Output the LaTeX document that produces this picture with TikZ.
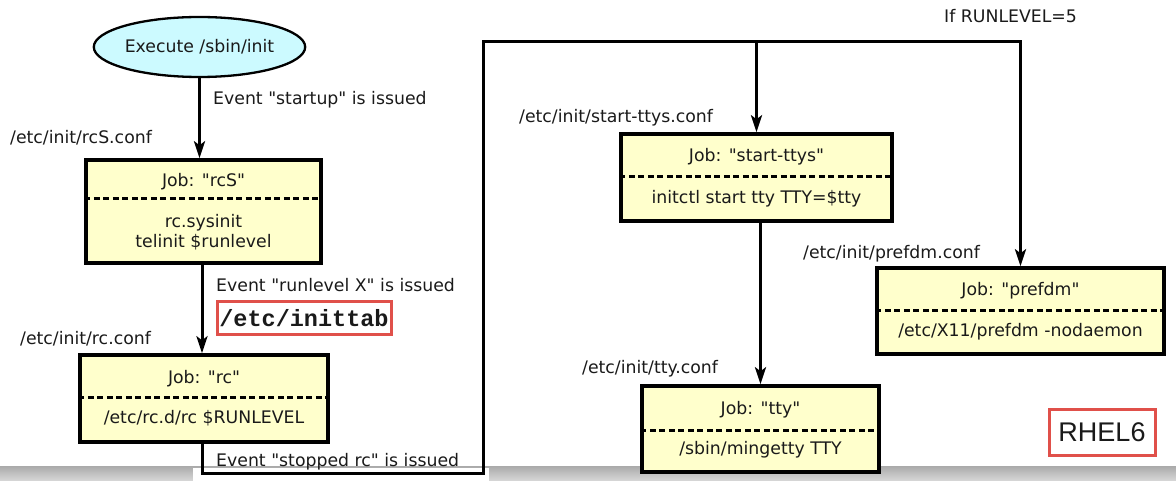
\documentclass[tikz,border=0pt]{standalone}
\usepackage{fontspec}
\newfontfamily\jpf{DejaVu Sans}
\newfontfamily\monof{Liberation Mono}
\newfontfamily\arialf{Liberation Sans}
\usetikzlibrary{arrows.meta,shapes.geometric}
\definecolor{boxyellow}{HTML}{FFFFCC}
\definecolor{ellcyan}{HTML}{CCFAFF}
\definecolor{redbox}{HTML}{E0504A}
\definecolor{txt}{HTML}{1A1A1A}
\definecolor{bandgray}{HTML}{C8C8C8}
\tikzset{
  every node/.style={text=txt, inner sep=0pt, font=\jpf\fontsize{17.3}{20}\selectfont},
  jobbox/.style={draw=black, fill=boxyellow, line width=3.5pt, rectangle},
  sep/.style={line width=3pt, dash pattern=on 6pt off 3.5pt},
  conn/.style={line width=3pt, draw=black},
  arr/.style={-{Stealth[length=17pt,width=11pt,inset=4pt]}},
  lbl/.style={anchor=west},
  redframe/.style={draw=redbox, line width=3pt, fill=white},
}
\begin{document}
\begin{tikzpicture}[x=1pt,y=-1pt]
\useasboundingbox (0,0) rectangle (1176,481);
% screenshot band at the bottom
\fill[top color=bandgray!85!black, bottom color=bandgray!70!white] (0,466) rectangle (1176,481);
\fill[white] (193,468) rectangle (489,481);

% start ellipse
\node[ellipse, draw=black, line width=2.3pt, fill=ellcyan, minimum width=206pt, minimum height=60pt] (init) at (199.5,47) {Execute /sbin/init};

% rcS job
\node[jobbox, minimum width=235pt, minimum height=103pt] (rcS) at (203.5,211.5) {};
\draw[sep] (rcS.west |- 0,199) -- (rcS.east |- 0,199);
\node (rcSjob) at (203.5,182) {Job: "rcS"};
\node (rcScmd) at (203.5,234) {\begin{tabular}{@{}c@{}}rc.sysinit\\[0pt] telinit \$runlevel\end{tabular}};

% rc job
\node[jobbox, minimum width=248pt, minimum height=87pt] (rc) at (204,398.5) {};
\draw[sep] (rc.west |- 0,397) -- (rc.east |- 0,397);
\node (rcjob) at (204,379) {Job: "rc"};
\node (rccmd) at (204,418) {/etc/rc.d/rc \$RUNLEVEL};

% start-ttys job
\node[jobbox, minimum width=271pt, minimum height=87pt] (stys) at (756.5,177.5) {};
\draw[sep] (stys.west |- 0,177) -- (stys.east |- 0,177);
\node (stysjob) at (756.5,157) {Job: "start-ttys"};
\node (styscmd) at (756.5,199) {initctl start tty TTY=\$tty};

% tty job
\node[jobbox, minimum width=237pt, minimum height=86pt] (tty) at (760.5,429) {};
\draw[sep] (tty.west |- 0,430) -- (tty.east |- 0,430);
\node (ttyjob) at (760.5,410) {Job: "tty"};
\node (ttycmd) at (760.5,450) {/sbin/mingetty TTY};

% prefdm job
\node[jobbox, minimum width=287pt, minimum height=86pt] (prefdm) at (1020.5,311) {};
\draw[sep] (prefdm.west |- 0,310) -- (prefdm.east |- 0,310);
\node (prefdmjob) at (1020.5,291) {Job: "prefdm"};
\node (prefdmcmd) at (1020.5,332) {/etc/X11/prefdm -nodaemon};

% labels
\node[lbl] (lstartup) at (213,100) {Event "startup" is issued};
\node[lbl] (lrcSconf) at (10,138) {/etc/init/rcS.conf};
\node[lbl] (lrunlevel) at (216,285) {Event "runlevel X" is issued};
\node[lbl] (lrcconf) at (20,339) {/etc/init/rc.conf};
\node[lbl] (lstopped) at (216,462) {Event "stopped rc" is issued};
\node[lbl] (lstysconf) at (519,118) {/etc/init/start-ttys.conf};
\node[lbl] (lttyconf) at (582,369) {/etc/init/tty.conf};
\node[lbl] (lprefdmconf) at (803,254) {/etc/init/prefdm.conf};
\node[lbl] (lrl5) at (944,16) {If RUNLEVEL=5};

% red boxes
\node[redframe, minimum width=174pt, minimum height=32pt, font=\monof\bfseries\fontsize{23.5}{26}\selectfont] (inittab) at (304,318) {/etc/inittab};
\node[redframe, minimum width=106pt, minimum height=46pt, font=\arialf\fontsize{27}{30}\selectfont] (rhel) at (1102,432) {RHEL6};

% connectors
\coordinate (c1) at (483,473);
\coordinate (c2) at (483,42);
\draw[conn,arr] (init.south) -- (init.south |- rcS.north);
\draw[conn,arr] (rcS.south -| 202,0) -- (rc.north -| 202,0);
\draw[conn,arr,line join=miter] (rc.south -| 202,0) |- (c1) -- (c2) -| (prefdm.north);
\draw[conn,arr] (stys.north |- c2) -- (stys.north);
\draw[conn,arr] (tty.north |- stys.south) -- (tty.north);
\end{tikzpicture}
\end{document}
